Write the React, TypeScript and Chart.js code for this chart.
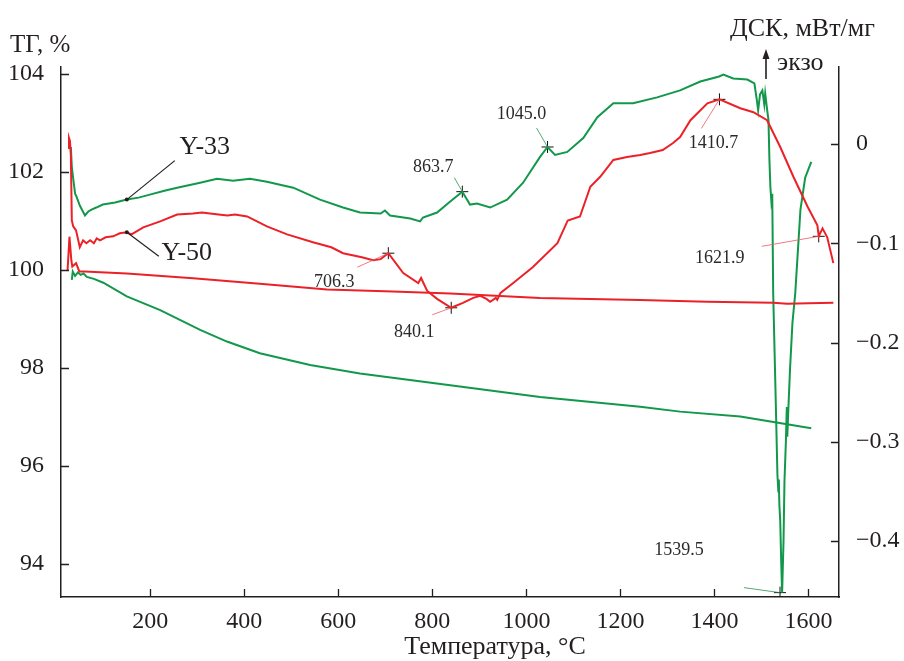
import React, { useEffect, useRef } from "react";
import { Chart, registerables } from "chart.js";

Chart.register(...registerables);

// ---- axis ranges / ticks ----
const tempMin = 10;
const tempMax = 1665;
const tgMin = 93.327;
const tgMax = 104.143;
const dscMin = -0.4564;
const dscMax = 0.0776;

const tempTicks = [200, 400, 600, 800, 1000, 1200, 1400, 1600];
const tgTicks = [94, 96, 98, 100, 102, 104];
const dscTicks = [-0.4, -0.3, -0.2, -0.1, 0];

// ---- TG, % (left axis) ----
const tgY33Temp = [33, 35, 40, 46, 52, 58, 65, 80, 100, 150, 221, 306, 363, 433, 540, 646, 838, 1029, 1242, 1327, 1455, 1606];
const tgY33Value = [99.8, 99.97, 99.88, 99.95, 99.9, 99.93, 99.86, 99.82, 99.74, 99.46, 99.18, 98.78, 98.54, 98.3, 98.06, 97.89, 97.65, 97.41, 97.21, 97.11, 97.01, 96.77];

const tgY50Temp = [24, 28, 32, 34, 42, 49, 60, 150, 291, 433, 576, 716, 838, 1029, 1242, 1385, 1525, 1555, 1600, 1653];
const tgY50Value = [100.0, 100.68, 100.2, 100.07, 100.14, 99.97, 99.97, 99.93, 99.83, 99.72, 99.6, 99.56, 99.52, 99.43, 99.39, 99.35, 99.33, 99.31, 99.32, 99.33];

// ---- DSC, mW/mg (right axis) ----
const dscY33Temp = [31, 33, 36, 40, 43, 50, 61, 68, 75, 85, 99, 125, 150, 175, 199, 230, 257, 306, 342, 376, 412, 448, 504, 561, 610, 646, 690, 699, 710, 753, 774, 780, 810, 838, 863.7, 880, 895, 923, 959, 993, 1029, 1045, 1061, 1087, 1121, 1151, 1185, 1227, 1278, 1327, 1370, 1410, 1419, 1440, 1470, 1485, 1490, 1493, 1497, 1502, 1506, 1508, 1512, 1515, 1517, 1519, 1521, 1523, 1525, 1530, 1534, 1536, 1537, 1538, 1540, 1542, 1544, 1547, 1549, 1552, 1554, 1555, 1557, 1561, 1566, 1572, 1583, 1593, 1606];
const dscY33Value = [-0.003, -0.023, -0.035, -0.05, -0.053, -0.062, -0.072, -0.068, -0.066, -0.064, -0.061, -0.059, -0.056, -0.054, -0.051, -0.047, -0.044, -0.039, -0.035, -0.037, -0.035, -0.038, -0.044, -0.056, -0.064, -0.069, -0.07, -0.067, -0.072, -0.075, -0.078, -0.074, -0.069, -0.058, -0.048, -0.061, -0.06, -0.064, -0.056, -0.039, -0.013, -0.003, -0.011, -0.008, 0.006, 0.027, 0.041, 0.041, 0.047, 0.054, 0.063, 0.068, 0.07, 0.066, 0.065, 0.061, 0.045, 0.034, 0.05, 0.054, 0.04, 0.051, 0.035, 0.024, -0.016, -0.043, -0.057, -0.05, -0.15, -0.25, -0.333, -0.35, -0.338, -0.362, -0.38, -0.42, -0.452, -0.4, -0.34, -0.3, -0.265, -0.295, -0.27, -0.225, -0.18, -0.15, -0.066, -0.034, -0.018];

const dscY50Temp = [25, 27, 29, 31, 33, 36, 42, 50, 57, 64, 72, 80, 86, 93, 105, 121, 135, 150, 160, 185, 221, 257, 291, 310, 327, 345, 364, 380, 406, 448, 491, 546, 585, 610, 650, 674, 690, 706.3, 738, 770, 776, 781, 789, 810, 840.1, 865, 887, 902, 915, 923, 935, 938, 945, 972, 1014, 1066, 1088, 1114, 1136, 1157, 1185, 1214, 1242, 1263, 1290, 1312, 1327, 1349, 1385, 1410.7, 1455, 1483, 1512, 1540, 1568, 1598, 1619, 1621.9, 1630, 1640, 1653];
const dscY50Value = [-0.004, 0.006, 0.003, -0.012, -0.077, -0.083, -0.087, -0.104, -0.097, -0.1, -0.097, -0.1, -0.095, -0.097, -0.094, -0.093, -0.09, -0.089, -0.091, -0.084, -0.078, -0.071, -0.07, -0.069, -0.07, -0.071, -0.072, -0.071, -0.073, -0.083, -0.091, -0.099, -0.104, -0.11, -0.114, -0.117, -0.116, -0.11, -0.13, -0.14, -0.135, -0.14, -0.148, -0.156, -0.165, -0.16, -0.155, -0.153, -0.156, -0.159, -0.155, -0.157, -0.15, -0.14, -0.124, -0.1, -0.077, -0.073, -0.043, -0.033, -0.016, -0.013, -0.011, -0.009, -0.006, 0.001, 0.007, 0.024, 0.041, 0.045, 0.036, 0.032, 0.024, -0.003, -0.033, -0.063, -0.082, -0.093, -0.085, -0.094, -0.12];

// ---- marked peaks ----
const peakTemps = [706.3, 840.1, 863.7, 1045.0, 1410.7, 1539.5, 1621.9];
const peakValues = [-0.11, -0.165, -0.048, -0.003, 0.045, -0.452, -0.093];
const peakLabels = ["706.3", "840.1", "863.7", "1045.0", "1410.7", "1539.5", "1621.9"];
const peakSeries = ["Y-50", "Y-50", "Y-33", "Y-33", "Y-50", "Y-33", "Y-50"];

const seriesNames = ["Y-33", "Y-50"];
const seriesLabelTemp = 150;

// ---- styles ----
const GREEN = "#12984a";
const RED = "#ec2127";
const INK = "#231f20";
const FONT = '"Liberation Serif", "Times New Roman", serif';

// label / pointer offsets (px) relative to each peak marker
const peakLabelOffset = [
  [-54, 29], [-37, 24], [-29, -24], [-26, -33], [-6, 44], [-101, -42], [-99, 22],
];
const peakLineStart = [
  [-31, 14], [-19, 7], [-8, -14], [-11, -19], [-18, 29], [-36, -5], [-57, 10],
];
const seriesLabelOffset = [[78, -52], [60, 21]];
const seriesLineStart = [[48, -39], [32, 24]];

const toPoints = (xs: number[], ys: number[]) => xs.map((x, i) => ({ x, y: ys[i] }));

const decorPlugin = {
  id: "decor",
  afterDraw(chart: any) {
    const { ctx, chartArea, scales } = chart;
    const sx = scales.x, sy = scales.y, sy2 = scales.y2;
    ctx.save();
    // inward tick marks
    ctx.strokeStyle = INK;
    ctx.lineWidth = 1.3;
    ctx.beginPath();
    tempTicks.forEach((t) => {
      const x = Math.round(sx.getPixelForValue(t)) + 0.5;
      ctx.moveTo(x, chartArea.bottom);
      ctx.lineTo(x, chartArea.bottom - 8);
    });
    tgTicks.forEach((v) => {
      const y = Math.round(sy.getPixelForValue(v)) + 0.5;
      ctx.moveTo(chartArea.left, y);
      ctx.lineTo(chartArea.left + 8, y);
    });
    dscTicks.forEach((v) => {
      const y = Math.round(sy2.getPixelForValue(v)) + 0.5;
      ctx.moveTo(chartArea.right, y);
      ctx.lineTo(chartArea.right - 8, y);
    });
    ctx.stroke();

    // peak pointer lines and labels
    ctx.font = `18px ${FONT}`;
    ctx.textAlign = "center";
    ctx.textBaseline = "middle";
    peakTemps.forEach((t, i) => {
      const px = sx.getPixelForValue(t);
      const py = sy2.getPixelForValue(peakValues[i]);
      ctx.strokeStyle = peakSeries[i] === "Y-33" ? "rgba(30,140,70,0.75)" : "rgba(230,90,100,0.8)";
      ctx.lineWidth = 1;
      ctx.beginPath();
      ctx.moveTo(px + peakLineStart[i][0], py + peakLineStart[i][1]);
      ctx.lineTo(px, py);
      ctx.stroke();
      ctx.fillStyle = "#2a2a2a";
      ctx.fillText(peakLabels[i], px + peakLabelOffset[i][0], py + peakLabelOffset[i][1]);
    });

    // series labels
    ctx.font = `26px ${FONT}`;
    const seriesData = [
      [dscY33Temp, dscY33Value],
      [dscY50Temp, dscY50Value],
    ];
    seriesNames.forEach((name, i) => {
      const [ts, vs] = seriesData[i];
      const k = ts.indexOf(seriesLabelTemp);
      const px = sx.getPixelForValue(ts[k]);
      const py = sy2.getPixelForValue(vs[k]);
      ctx.strokeStyle = INK;
      ctx.lineWidth = 1.2;
      ctx.beginPath();
      ctx.moveTo(px + seriesLineStart[i][0], py + seriesLineStart[i][1]);
      ctx.lineTo(px, py);
      ctx.stroke();
      ctx.fillStyle = INK;
      ctx.beginPath();
      ctx.arc(px, py, 2, 0, Math.PI * 2);
      ctx.fill();
      ctx.fillText(name, px + seriesLabelOffset[i][0], py + seriesLabelOffset[i][1]);
    });

    // axis titles
    ctx.fillStyle = INK;
    ctx.textBaseline = "alphabetic";
    ctx.font = `25px ${FONT}`;
    ctx.textAlign = "left";
    ctx.fillText("ТГ, %", 10, 52);
    ctx.font = `26px ${FONT}`;
    ctx.fillText("ДСК, мВт/мг", 730, 36);
    ctx.fillText("экзо", 777, 70);
    ctx.textAlign = "center";
    ctx.fillText("Температура, °C", 495, 654);

    // exo arrow
    ctx.strokeStyle = INK;
    ctx.lineWidth = 1.6;
    ctx.beginPath();
    ctx.moveTo(766, 79);
    ctx.lineTo(766, 56);
    ctx.stroke();
    ctx.fillStyle = INK;
    ctx.beginPath();
    ctx.moveTo(766, 49);
    ctx.lineTo(762.5, 59);
    ctx.lineTo(769.5, 59);
    ctx.closePath();
    ctx.fill();
    ctx.restore();
  },
};

export default function App() {
  const ref = useRef<HTMLCanvasElement | null>(null);

  useEffect(() => {
    if (!ref.current) return;
    const lineDs = (data: any, color: string, axis: string) => ({
      data,
      borderColor: color,
      backgroundColor: color,
      borderWidth: 2,
      pointRadius: 0,
      tension: 0,
      fill: false,
      yAxisID: axis,
    });
    const chart = new Chart(ref.current, {
      type: "line",
      data: {
        datasets: [
          lineDs(toPoints(tgY50Temp, tgY50Value), RED, "y"),
          lineDs(toPoints(tgY33Temp, tgY33Value), GREEN, "y"),
          lineDs(toPoints(dscY50Temp, dscY50Value), RED, "y2"),
          lineDs(toPoints(dscY33Temp, dscY33Value), GREEN, "y2"),
          {
            data: toPoints(peakTemps, peakValues),
            showLine: false,
            pointStyle: "cross",
            pointRadius: 6,
            pointBorderColor: "#111",
            pointBorderWidth: 1,
            yAxisID: "y2",
          } as any,
        ],
      },
      options: {
        animation: false,
        responsive: false,
        events: [],
        layout: { padding: { top: 67, left: 0, right: 0, bottom: 0 } },
        plugins: { legend: { display: false }, tooltip: { enabled: false } },
        scales: {
          x: {
            type: "linear",
            min: tempMin,
            max: tempMax,
            grid: { display: false },
            border: { display: true, color: INK, width: 1.5 },
            afterBuildTicks: (s: any) => { s.ticks = tempTicks.map((v) => ({ value: v })); },
            afterFit: (s: any) => { s.height = 64; },
            ticks: {
              color: INK,
              font: { family: FONT, size: 24 },
              padding: 2,
              maxRotation: 0,
              autoSkip: false,
              callback: (v: any) => String(v),
            },
          },
          y: {
            type: "linear",
            position: "left",
            min: tgMin,
            max: tgMax,
            grid: { display: false },
            border: { display: true, color: INK, width: 1.5 },
            afterBuildTicks: (s: any) => { s.ticks = tgTicks.map((v) => ({ value: v })); },
            afterFit: (s: any) => { s.width = 61; },
            ticks: { color: INK, font: { family: FONT, size: 24 }, padding: 9, autoSkip: false, callback: (v: any) => String(v) },
          },
          y2: {
            type: "linear",
            position: "right",
            min: dscMin,
            max: dscMax,
            grid: { display: false },
            border: { display: true, color: INK, width: 1.5 },
            afterBuildTicks: (s: any) => { s.ticks = dscTicks.map((v) => ({ value: v })); },
            afterFit: (s: any) => { s.width = 65; },
            ticks: {
              color: INK,
              font: { family: FONT, size: 24 },
              padding: 9,
              autoSkip: false,
              callback: (v: any) => (Math.abs(v) < 1e-9 ? "0" : "\u2212" + Math.abs(v).toFixed(1)),
            },
          },
        },
      },
      plugins: [decorPlugin],
    } as any);
    return () => chart.destroy();
  }, []);

  return (
    <div style={{ position: "fixed", left: 0, top: 0, width: 904, height: 661, background: "#fff" }}>
      <canvas ref={ref} width={904} height={661} style={{ width: 904, height: 661, display: "block" }} />
    </div>
  );
}
